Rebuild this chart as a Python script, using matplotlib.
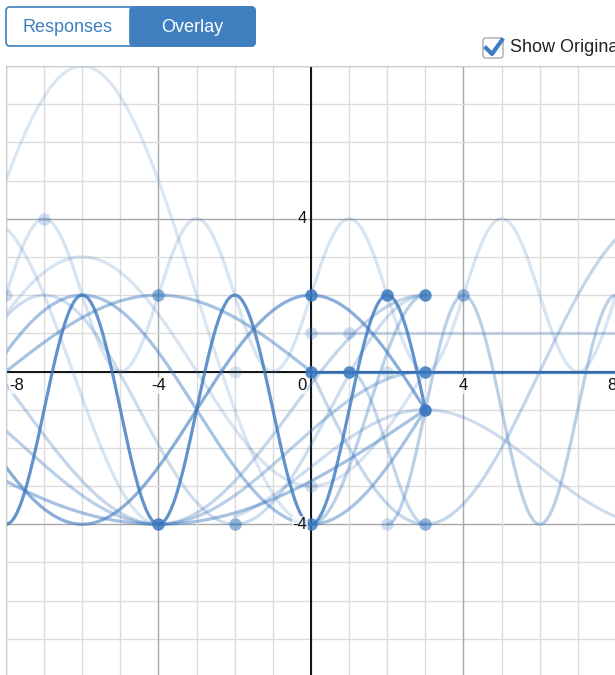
import numpy as np
import matplotlib.pyplot as plt
from matplotlib.patches import FancyBboxPatch, Rectangle

plt.rcParams['font.family'] = ['Liberation Sans', 'DejaVu Sans']

# each response curve: y = amp*cos(2*pi/period*(x - peak)) + mid on [x_from, x_to]
amps    = [3, 3, 2, 3, 2, -4, 6, 3, -3, 1.5, 0, 0, -3, -2, -3, -3, -3, -4, 2]
periods = [4, 12, 4, 4, 16, 12, 12, 12, 28, 12, 1, 1, 12, 14, 14, 10, 6, 9, 4]
peaks   = [2, 0, 1, 4, -4, 3, -6, -6, -4, 3, 0, 0, 0, -4, -4, -2, 0, -4, 1]
mids    = [-1, -1, 2, -1, 0, 0, 2, 0, -1, -2.5, 0, 1, -1, -2, -1, -1, -1, 0, -2]
x_from  = [-8, -8, -8, 2, -8, 0, -8, -8, -8, -2, 0, 0, -8, -8, -8, -8, 0, -8, 1]
x_to    = [3, 3, 8, 8, 0, 8, 0, 3, 3, 8, 8, 8, 3, 3, 3, 3, 3, -4, 3]
alphas  = [0.8, 0.6, 0.2, 0.35, 0.45, 0.3, 0.18, 0.2, 0.45, 0.25, 0.85, 0.25,
           0.45, 0.35, 0.3, 0.25, 0.35, 0.2, 0.3]

# response points
pt_x = [0, 0, 1, 2, 3, 3, 3, -4, 0, -2, -4, 4, 3, -8, -7, 0, 1, -2, 2, 2, 0]
pt_y = [2, 0, 0, 2, 2, 0, -1, -4, -4, -4, 2, 2, -4, 2, 4, 1, 1, 0, 0, -4, -3]
pt_a = [0.85, 0.85, 0.85, 0.85, 0.85, 0.85, 0.95, 0.85, 0.8, 0.55, 0.6, 0.55,
        0.55, 0.25, 0.25, 0.25, 0.25, 0.2, 0.2, 0.25, 0.25]

blue = '#3b78bf'

fig = plt.figure(figsize=(6.15, 6.75), dpi=100)
ax = fig.add_axes([6 / 615, -2 / 675, 610 / 615, 611 / 675])
ax.set_xlim(-8, 8)
ax.set_ylim(-8, 8)

# grid
for v in range(-8, 9):
    c = '#a8a8a8' if v % 4 == 0 else '#dcdcdc'
    ax.axvline(v, color=c, lw=1, zorder=0)
    ax.axhline(v, color=c, lw=1, zorder=0)
ax.axvline(0, color='#111111', lw=1.4, zorder=1)
ax.axhline(0, color='#111111', lw=1.4, zorder=1)

for a, p, h, m, x0, x1, al in zip(amps, periods, peaks, mids, x_from, x_to, alphas):
    xs = np.linspace(x0, x1, 400)
    ys = a * np.cos(2 * np.pi / p * (xs - h)) + m
    ax.plot(xs, ys, color=blue, lw=2.3, alpha=al, solid_capstyle='round', zorder=2)

for x, y, al in zip(pt_x, pt_y, pt_a):
    ax.plot(x, y, 'o', ms=9, color=blue, alpha=al, mec='none', zorder=3)

# axis numbers
lab = dict(fontsize=12, color='#111111', zorder=4,
           bbox=dict(fc='white', ec='none', alpha=0.7, pad=0.5))
for v in [-8, -4, 4, 8]:
    ax.text(v + (0.28 if v == -8 else 0) - (0.12 if v == 8 else 0), -0.37, str(v),
            ha='center', va='center', **lab)
ax.text(-0.24, -0.37, '0', ha='center', va='center', **lab)
ax.text(-0.1, 4, '4', ha='right', va='center', **lab)
ax.text(-0.1, -4, '-4', ha='right', va='center', **lab)

ax.set_xticks([])
ax.set_yticks([])
for s in ax.spines.values():
    s.set_color('#cccccc')

# segmented control
W, H = 615, 675
def fx(px):
    return px / W
def fy(py):
    return 1 - py / H

fig.add_artist(FancyBboxPatch((fx(6), fy(46)), fx(249), 39 / H,
                              boxstyle='round,pad=0,rounding_size=0.006',
                              fc='white', ec='#3f7fc0', lw=1.2,
                              transform=fig.transFigure))
fig.add_artist(FancyBboxPatch((fx(130), fy(46)), fx(125), 39 / H,
                              boxstyle='round,pad=0,rounding_size=0.006',
                              fc='#3f7fc0', ec='#3f7fc0', lw=1.2,
                              transform=fig.transFigure))
fig.add_artist(Rectangle((fx(130), fy(46)), fx(10), 39 / H, fc='#3f7fc0',
                         ec='none', transform=fig.transFigure))
fig.text(fx(68), fy(27), 'Responses', ha='center', va='center',
         fontsize=13, color='#3f7fc0')
fig.text(fx(192), fy(27), 'Overlay', ha='center', va='center',
         fontsize=13, color='white')

# checkbox
fig.add_artist(FancyBboxPatch((fx(483), fy(58)), fx(20), 20 / H,
                              boxstyle='round,pad=0,rounding_size=0.004',
                              fc='white', ec='#aaaaaa', lw=1,
                              transform=fig.transFigure))
fig.add_artist(plt.Line2D([fx(486), fx(492), fx(502)], [fy(48), fy(54), fy(40)],
                          color='#3f7fc0', lw=3, transform=fig.transFigure))
fig.text(fx(510), fy(48), 'Show Original', ha='left', va='center',
         fontsize=13, color='#222222')

fig.savefig('out.png', dpi=100)
